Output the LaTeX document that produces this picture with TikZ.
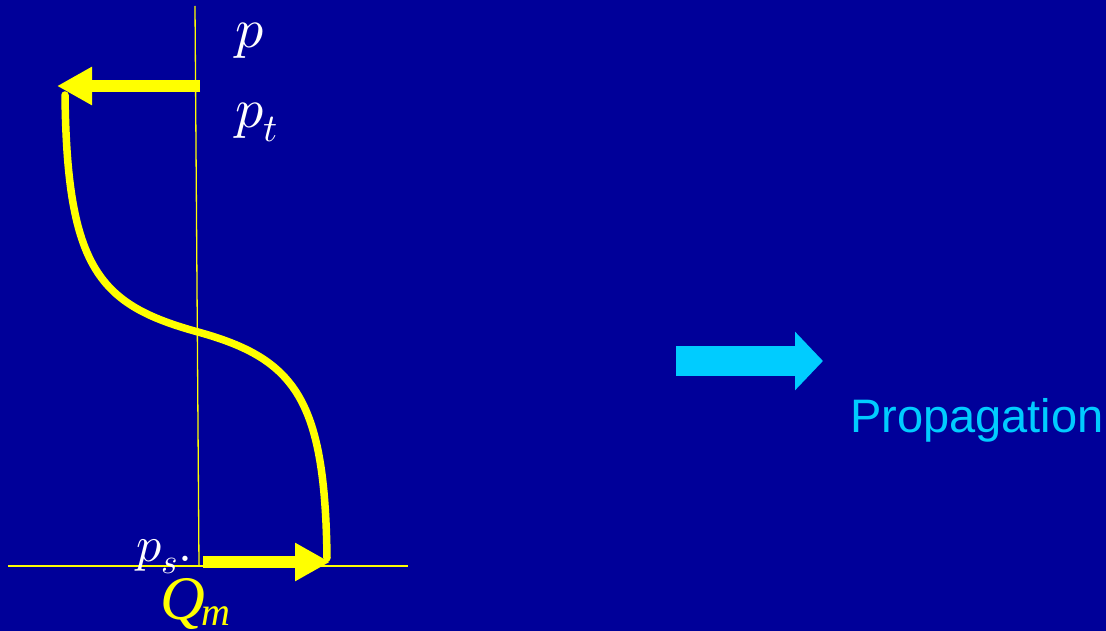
\documentclass[tikz,border=0pt]{standalone}
\usepackage{fontspec}
\usepackage{unicode-math}
\setmainfont{Liberation Serif}
\newfontfamily\propfont{Liberation Sans}
\usetikzlibrary{arrows.meta}
\definecolor{bgblue}{RGB}{0,0,153}
\definecolor{ylw}{RGB}{255,255,0}
\definecolor{cyanarrow}{RGB}{0,204,255}
\tikzset{
  thinaxis/.style={draw=ylw, line width=1.3pt},
  fatarrow/.style={draw=ylw, line width=12pt, -{Triangle[length=35pt,width=36pt]}},
  curveline/.style={draw=ylw, line width=7.5pt, line cap=round},
  lbl/.style={text=white, inner sep=0pt, anchor=base west},
}
\begin{document}
\begin{tikzpicture}[x=1pt,y=-1pt]
\fill[bgblue] (0,0) rectangle (1106,631);
\useasboundingbox (0,0) rectangle (1106,631);

% axes
\coordinate (vtop) at (195,6);
\coordinate (vbot) at (199,566);
\coordinate (hl) at (8,566);
\coordinate (hr) at (408,566);
\draw[thinaxis] (vtop) -- (vbot);
\draw[thinaxis] (hl) -- (hr);

% S-curve
\coordinate (ctop) at (65,95);
\coordinate (cmid) at (198,332);
\coordinate (cbot) at (327,558);
\draw[curveline] (ctop) .. controls (67,270) and (100,305) .. (cmid)
  .. controls (296,359) and (325,400) .. (cbot);

% yellow arrows
\coordinate (ta1) at (200,86);
\coordinate (ta2) at (57,86);
\draw[fatarrow] (ta1) -- (ta2);
\coordinate (ba1) at (203,562);
\coordinate (ba2) at (330,562);
\draw[fatarrow] (ba1) -- (ba2);

% labels
\node[lbl, font=\fontsize{56}{60}\selectfont] (p) at (235,48) {$p$};
\node[lbl, font=\fontsize{56}{60}\selectfont] (pt) at (235,128) {$p_t$};
\node[lbl, font=\fontsize{50}{56}\selectfont] (ps) at (136,561) {$p_s.$};
\node[lbl, text=ylw] (qm) at (160,619)
  {{\itshape\fontsize{62}{70}\selectfont Q}\kern-3pt\raisebox{-6pt}{\itshape\fontsize{40}{48}\selectfont m}};

% cyan arrow
\coordinate (ca1) at (676,361);
\coordinate (ca2) at (823,361);
\draw[draw=cyanarrow, line width=30pt, -{Triangle[length=28pt,width=57pt]}] (ca1) -- (ca2);

\node[inner sep=0pt, anchor=base west, text=cyanarrow, font=\propfont\fontsize{47}{52}\selectfont] (prop) at (850,432) {Propagation};
\end{tikzpicture}
\end{document}
